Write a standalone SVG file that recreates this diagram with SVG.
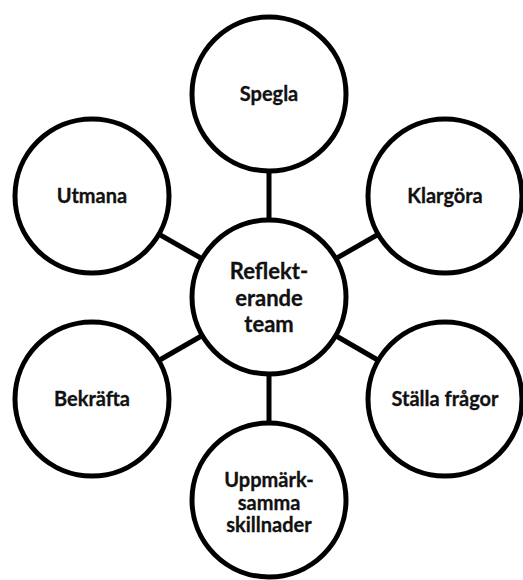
<svg xmlns="http://www.w3.org/2000/svg" width="523" height="580" viewBox="0 0 523 580">
<style>
.n{fill:#fff;stroke:#000;stroke-width:5}
.c{stroke:#000;stroke-width:5;fill:none}
text{font-family:Lato,"Liberation Sans",sans-serif;font-weight:bold;font-size:20px;fill:#111;text-anchor:middle;stroke:#111;stroke-width:0.3}
.big{font-size:22px}
</style>
<rect width="523" height="580" fill="#fff"/>
<g id="connectors">
<line class="c" x1="269" y1="297" x2="269" y2="94"/>
<line class="c" x1="269" y1="297" x2="445" y2="196"/>
<line class="c" x1="269" y1="297" x2="445" y2="399"/>
<line class="c" x1="269" y1="297" x2="269" y2="500"/>
<line class="c" x1="269" y1="297" x2="92" y2="399"/>
<line class="c" x1="269" y1="297" x2="92" y2="196"/>
</g>
<g id="center"><circle class="n" cx="269" cy="297" r="77"/><text class="big" x="269" y="279">Reflekt-</text><text class="big" x="269" y="306">erande</text><text class="big" x="269" y="332">team</text></g>
<g id="spegla"><circle class="n" cx="269" cy="94" r="77"/><text x="269" y="101">Spegla</text></g>
<g id="klargora"><circle class="n" cx="445" cy="196" r="77"/><text x="445" y="203">Klargöra</text></g>
<g id="stalla"><circle class="n" cx="445" cy="399" r="77"/><text x="445" y="406">Ställa frågor</text></g>
<g id="uppmarksamma"><circle class="n" cx="269" cy="500" r="77"/><text x="269" y="487">Uppmärk-</text><text x="269" y="510">samma</text><text x="269" y="532">skillnader</text></g>
<g id="bekrafta"><circle class="n" cx="92" cy="399" r="77"/><text x="92" y="406">Bekräfta</text></g>
<g id="utmana"><circle class="n" cx="92" cy="196" r="77"/><text x="92" y="203">Utmana</text></g>
</svg>
